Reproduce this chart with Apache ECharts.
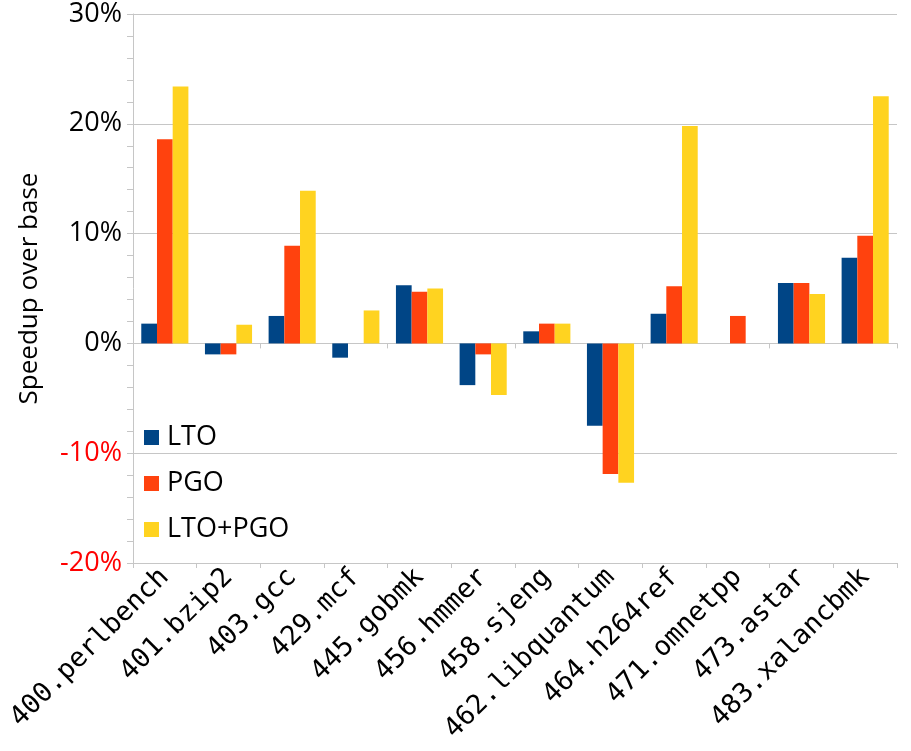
<!DOCTYPE html>
<html>
<head>
<meta charset="utf-8">
<script src="https://cdn.jsdelivr.net/npm/echarts@6/dist/echarts.min.js"></script>
<style>
  html, body { margin: 0; padding: 0; background: #fff; }
  #chart { width: 911px; height: 751px; }
</style>
</head>
<body>
<div id="chart"></div>
<script>
// SPEC CPU2006 benchmarks
const benchmarks = [
  '400.perlbench', '401.bzip2', '403.gcc', '429.mcf', '445.gobmk', '456.hmmer',
  '458.sjeng', '462.libquantum', '464.h264ref', '471.omnetpp', '473.astar', '483.xalancbmk'
];

// Speedup over base, in percent
const lto    = [1.8, -1.0, 2.5, -1.3, 5.3, -3.8, 1.1, -7.5, 2.7, 0, 5.5, 7.8];
const pgo    = [18.6, -1.0, 8.9, 0, 4.7, -1.0, 1.8, -11.9, 5.2, 2.5, 5.5, 9.8];
const ltoPgo = [23.4, 1.7, 13.9, 3.0, 5.0, -4.7, 1.8, -12.7, 19.8, 0, 4.5, 22.5];

// y axis range and step
const yMin = -20, yMax = 30, yStep = 10;

const chart = echarts.init(document.getElementById('chart'), null, { renderer: 'canvas' });

const gridColor = '#c6c6c6';
const sansFont = '"Open Sans", "DejaVu Sans", sans-serif';

function bar(name, data, color) {
  return {
    name: name,
    type: 'bar',
    xAxisIndex: 0,
    data: data,
    barGap: '0%',
    barCategoryGap: '26%',
    itemStyle: { color: color },
    emphasis: { disabled: true }
  };
}

chart.setOption({
  animation: false,
  backgroundColor: '#ffffff',
  grid: { left: 133, right: 14, top: 14, bottom: 188, containLabel: false },
  legend: {
    orient: 'vertical',
    left: 144,
    top: 424,
    padding: 0,
    itemWidth: 15,
    itemHeight: 15,
    itemGap: 19,
    icon: 'rect',
    textStyle: { fontFamily: sansFont, fontSize: 27, color: '#000', lineHeight: 26, padding: [0, 0, 0, 3] },
    data: ['LTO', 'PGO', 'LTO+PGO']
  },
  xAxis: [
    {
      type: 'category',
      data: benchmarks,
      position: 'bottom',
      axisLine: { onZero: false, lineStyle: { color: gridColor, width: 1 } },
      axisTick: { show: true, length: 5, lineStyle: { color: gridColor } },
      axisLabel: {
        rotate: 45,
        margin: 10,
        fontFamily: '"DejaVu Sans Mono", monospace',
        fontSize: 27,
        color: '#000'
      },
      splitLine: { show: false }
    },
    {
      type: 'category',
      data: benchmarks,
      position: 'bottom',
      axisLine: { onZero: true, lineStyle: { color: gridColor, width: 1 } },
      axisTick: { show: true, length: 5, lineStyle: { color: gridColor } },
      axisLabel: { show: false },
      splitLine: { show: false }
    }
  ],
  yAxis: {
    type: 'value',
    min: yMin,
    max: yMax,
    interval: yStep,
    name: 'Speedup over base',
    nameLocation: 'middle',
    nameGap: 90,
    nameTextStyle: { fontFamily: sansFont, fontSize: 26, color: '#000' },
    axisLine: { show: true, lineStyle: { color: gridColor } },
    axisTick: { show: true, length: 6, lineStyle: { color: gridColor } },
    minorTick: { show: true, splitNumber: 5, length: 6, lineStyle: { color: gridColor } },
    splitLine: { show: true, lineStyle: { color: gridColor, width: 1 } },
    axisLabel: {
      margin: 11,
      formatter: function (v) {
        return (v < 0 ? '{neg|' : '{pos|') + v + '%}';
      },
      rich: {
        pos: { fontFamily: sansFont, fontSize: 27, color: '#000' },
        neg: { fontFamily: sansFont, fontSize: 27, color: '#ff0000' }
      }
    }
  },
  series: [
    bar('LTO', lto, '#004586'),
    bar('PGO', pgo, '#ff420e'),
    bar('LTO+PGO', ltoPgo, '#ffd320')
  ]
});
</script>
</body>
</html>
